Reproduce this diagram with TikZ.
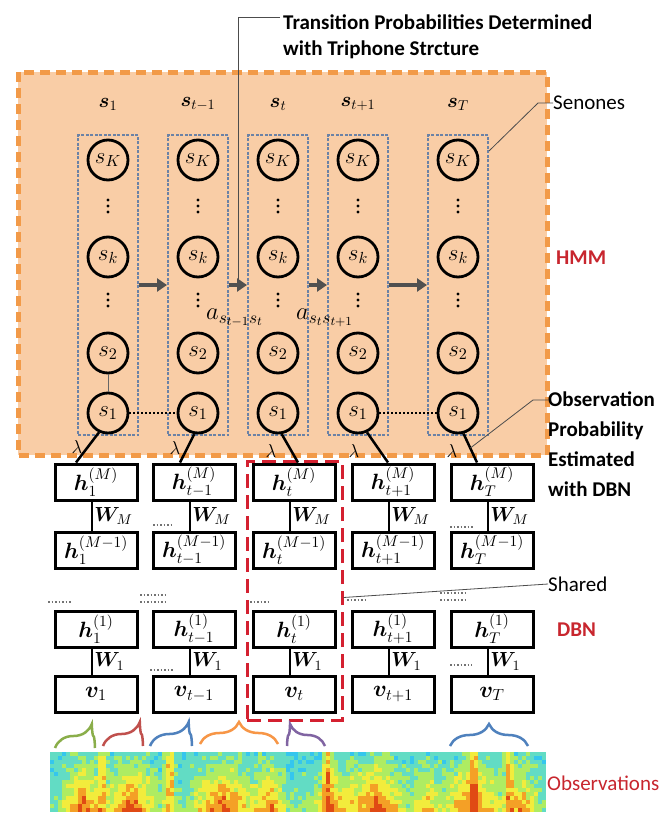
\RequirePackage{fix-cm}
\documentclass[tikz,border=0pt]{standalone}
\usepackage{amsmath,bm}
\usepackage{fontspec}
\setmainfont{Carlito}
\usetikzlibrary{decorations.pathreplacing,calc,arrows.meta}
\definecolor{peach}{HTML}{F9CDA6}
\definecolor{orng}{HTML}{F29A48}
\definecolor{colblue}{HTML}{6B82A6}
\definecolor{redtxt}{HTML}{C8262E}
\definecolor{reddash}{HTML}{D42030}
\definecolor{arrgray}{HTML}{505050}
\definecolor{jet0}{HTML}{34C6EE}
\definecolor{jet1}{HTML}{62DCC4}
\definecolor{jet2}{HTML}{AEEC62}
\definecolor{jet3}{HTML}{F2EC3C}
\definecolor{jet4}{HTML}{F4A026}
\definecolor{jet5}{HTML}{E04A14}
\definecolor{bgreen}{HTML}{8AAE4A}
\definecolor{bred}{HTML}{C0504D}
\definecolor{bblue}{HTML}{4F81BD}
\definecolor{borange}{HTML}{F79646}
\definecolor{bpurple}{HTML}{8064A2}
\newcommand{\mbig}[2]{\scalebox{#1}{$#2$}}
\tikzset{
  lbl/.style={font=\fontsize{21}{30}\selectfont\bfseries, inner sep=0pt},
  redlbl/.style={lbl, text=redtxt},
  colbox/.style={draw=colblue, line width=2pt, dash pattern=on 3pt off 1.5pt, minimum width=60pt, minimum height=300pt, inner sep=0pt},
  state/.style={circle, draw, line width=2.8pt, minimum size=40pt, inner sep=0pt, font=\fontsize{17}{17}\selectfont},
  harrow/.style={-{Triangle[length=10pt,width=13pt]}, line width=4pt, draw=arrgray},
  dbox/.style={draw, line width=3pt, minimum width=82pt, minimum height=36pt, inner sep=0pt, font=\fontsize{17}{17}\selectfont, fill=white},
  conn/.style={line width=2.5pt},
  wlbl/.style={anchor=west, inner sep=1pt, font=\fontsize{17}{17}\selectfont},
  lamline/.style={line width=2.5pt},
  lamlbl/.style={inner sep=0pt, font=\fontsize{17}{17}\selectfont},
  leader/.style={line width=0.8pt, draw=black!70},
  dotsty/.style={draw=black!55, line width=1.3pt, dash pattern=on 1.5pt off 2pt},
  obsdot/.style={line width=1.5pt, dash pattern=on 1.5pt off 2.5pt},
  brc/.style={decorate, line width=2.5pt},
}
\begin{document}
\begin{tikzpicture}[x=1pt,y=-1pt]
\useasboundingbox (0,0) rectangle (660,816);
\fill[white] (0,0) rectangle (660,816);

% HMM region
\fill[peach] (18,72) rectangle (547,455);
\draw[orng, line width=5pt, dash pattern=on 10pt off 6pt] (18,72) rectangle (547,455);

% top label
\node[lbl, anchor=west] (t1) at (283,22) {Transition Probabilities Determined};
\node[lbl, anchor=west] (t2) at (283,50) {with Triphone Strcture};
\coordinate (tend) at (238,283);
\draw[leader] ([xshift=-3pt,yshift=5pt]t1.west) -- ([yshift=5pt]t1.west -| tend) -- (tend);

% columns of senones
\foreach \n/\x/\lab in {1/108/1, 2/198/{t-1}, 3/278/t, 4/358/{t+1}, 5/458/T} {
  \node[colbox] (col\n) at (\x,285) {};
  \node[inner sep=0pt, font=\fontsize{17}{17}\selectfont] (top\n) at (\x,104) {\mbig{1.2}{\boldsymbol{s}_{\lab}}};
  \node[state] (sK\n) at (\x,160) {\mbig{1.35}{s_K}};
  \node[state] (sk\n) at (\x,257) {\mbig{1.35}{s_k}};
  \node[state] (s2\n) at (\x,353) {\mbig{1.35}{s_2}};
  \node[state] (s1\n) at (\x,413) {\mbig{1.35}{s_1}};
  \foreach \yd in {200,206,212,294,300,306} {\fill (\x,\yd) circle (1.7pt);}
}
\draw[line width=1pt, draw=black!60] (s21) -- (s11);
\draw[obsdot] (s11) -- (s12);
\draw[obsdot] (s14) -- (s15);

\draw[harrow] (col1.east) -- (col2.west);
\draw[harrow] (col2.east) -- (col3.west);
\draw[harrow] (col3.east) -- (col4.west);
\draw[harrow] (col4.east) -- (col5.west);

\node[anchor=west, inner sep=0pt, font=\fontsize{17}{17}\selectfont] (a1) at (206,318) {\mbig{1.45}{a_{s_{t-1}s_t}}};
\node[anchor=west, inner sep=0pt, font=\fontsize{17}{17}\selectfont] (a2) at (296,318) {\mbig{1.45}{a_{s_ts_{t+1}}}};

% senones leader
\node[lbl, anchor=west, font=\fontsize{21}{21}\selectfont\mdseries] (sen) at (553,103) {Senones};
\coordinate (senk) at (538,103);
\draw[leader] ([yshift=-17pt]col5.north east) -- (senk) -- (sen.west);

\node[redlbl, anchor=west] (hmm) at (556,258) {HMM};

% shared red box
\node[draw=reddash, line width=3pt, dash pattern=on 14pt off 7pt, minimum width=95pt, minimum height=259pt, inner sep=0pt] (rbox) at (294.5,590.5) {};

% DBN stacks
\foreach \n/\x/\lab in {1/96/1, 2/194/{t-1}, 3/294/t, 4/393/{t+1}, 5/492/T} {
  \node[dbox] (hM\n) at (\x,482) {\mbig{1.3}{\boldsymbol{h}^{(M)}_{\lab}}};
  \node[dbox] (hMm\n) at (\x,550) {\mbig{1.3}{\boldsymbol{h}^{(M-1)}_{\lab}}};
  \node[dbox] (hO\n) at (\x,629) {\mbig{1.3}{\boldsymbol{h}^{(1)}_{\lab}}};
  \node[dbox] (v\n) at (\x,694) {\mbig{1.35}{\boldsymbol{v}_{\lab}}};
  \draw[conn] ([xshift=-4pt]hM\n.south) -- ([xshift=-4pt]hMm\n.north) node[wlbl, midway] (wM\n) {\mbig{1.2}{\boldsymbol{W}_M}};
  \draw[conn] ([xshift=-4pt]hO\n.south) -- ([xshift=-4pt]v\n.north) node[wlbl, midway] (wO\n) {\mbig{1.2}{\boldsymbol{W}_1}};
}

% lambda links
\draw[lamline] (s11.-115) -- ([xshift=-20pt]hM1.north);
\draw[lamline] (s12.-100) -- ([xshift=-14pt]hM2.north);
\draw[lamline] (s13.-80) -- ([xshift=4pt]hM3.north);
\draw[lamline] (s14.-65) -- ([xshift=-5pt]hM4.north);
\draw[lamline] (s15.-75) -- ([xshift=-15pt]hM5.north);
\path (s15.-75) -- ([xshift=-15pt]hM5.north) coordinate[pos=0.5] (lam5mid);
\node[lamlbl] (lam1) at (77,447) {\mbig{1.1}{\lambda}};
\node[lamlbl] (lam2) at (175,448) {\mbig{1.1}{\lambda}};
\node[lamlbl] (lam3) at (271,451) {\mbig{1.1}{\lambda}};
\node[lamlbl] (lam4) at (354,451) {\mbig{1.1}{\lambda}};
\node[lamlbl] (lam5) at (452,451) {\mbig{1.1}{\lambda}};

% observation probability label
\node[lbl, anchor=north west, align=left] (obs) at (548,392) {Observation\\Probability\\Estimated\\with DBN};
\coordinate (obsk) at (533,400);
\draw[leader] (lam5mid) -- (obsk) -- (obsk -| obs.west);

% shared
\node[lbl, anchor=west, font=\fontsize{21}{21}\selectfont\mdseries] (shr) at (548,584) {Shared};
\draw[leader] ([yshift=-7pt]rbox.east) -- (shr.west);
\node[redlbl, anchor=west] (dbn) at (557,630) {DBN};

% ellipsis dots
\draw[dotsty] (153,525) -- (172,525);
\draw[dotsty] (450,527) -- (473,527);
\draw[dotsty] (48,602) -- (72,602);
\draw[dotsty] (140,595) -- (165,595);
\draw[dotsty] (140,602) -- (165,602);
\draw[dotsty] (250,602) -- (270,602);
\draw[dotsty] (347,600) -- (366,600);
\draw[dotsty] (440,593) -- (467,593);
\draw[dotsty] (440,600) -- (467,600);
\draw[dotsty] (150,670) -- (173,670);
\draw[dotsty] (450,665) -- (472,665);

% spectrogram
\pgfmathsetseed{11}
\foreach \i in {0,...,123}{
  \pgfmathsetmacro\xx{50+4*\i}
  \pgfmathsetmacro\broad{0.5*max(0,1-abs(\xx-80)/25)+0.55*max(0,1-abs(\xx-130)/30)+0.5*max(0,1-abs(\xx-222)/40)+0.45*max(0,1-abs(\xx-268)/20)+0.4*max(0,1-abs(\xx-332)/25)+0.55*max(0,1-abs(\xx-375)/35)+0.3*max(0,1-abs(\xx-425)/20)+0.5*max(0,1-abs(\xx-470)/35)+0.4*max(0,1-abs(\xx-520)/20)}
  \pgfmathsetmacro\streak{0.45*max(0,1-abs(\xx-100)/7)+0.6*max(0,1-abs(\xx-168)/8)+0.45*max(0,1-abs(\xx-325)/7)+0.4*max(0,1-abs(\xx-472)/6)+0.5*max(0,1-abs(\xx-507)/7)}
  \foreach \j in {0,...,14}{
    \pgfmathsetmacro\yy{\j/14}
    \pgfmathsetmacro\vv{0.06+0.18*\yy+\broad*(0.25+0.9*\yy)+\streak*(0.95-0.2*\yy)+0.22*rnd}
    \pgfmathtruncatemacro\kk{max(0,min(5,floor(\vv*6)))}
    \fill[fill=jet\kk] (\xx,752+4*\j) rectangle ++(4.3,4.3);
  }
}
\node[redlbl, anchor=west, font=\fontsize{21}{21}\selectfont\mdseries] (obsv) at (547,783) {Observations};

% braces
\draw[brc, draw=bgreen, decoration={brace, amplitude=24pt, aspect=0.92}] (55,748) -- (95,748);
\draw[brc, draw=bred, decoration={brace, amplitude=24pt, aspect=0.92}] (103,746) -- (143,746);
\draw[brc, draw=bblue, decoration={brace, amplitude=24pt, aspect=0.92}] (150,746) -- (192,746);
\draw[brc, draw=borange, decoration={brace, amplitude=22pt, aspect=0.5}] (200,744) -- (278,744);
\draw[brc, draw=bpurple, decoration={brace, amplitude=22pt, aspect=0.08}] (287,746) -- (325,746);
\draw[brc, draw=bblue, decoration={brace, amplitude=22pt, aspect=0.5}] (450,746) -- (528,746);
\end{tikzpicture}
\end{document}
